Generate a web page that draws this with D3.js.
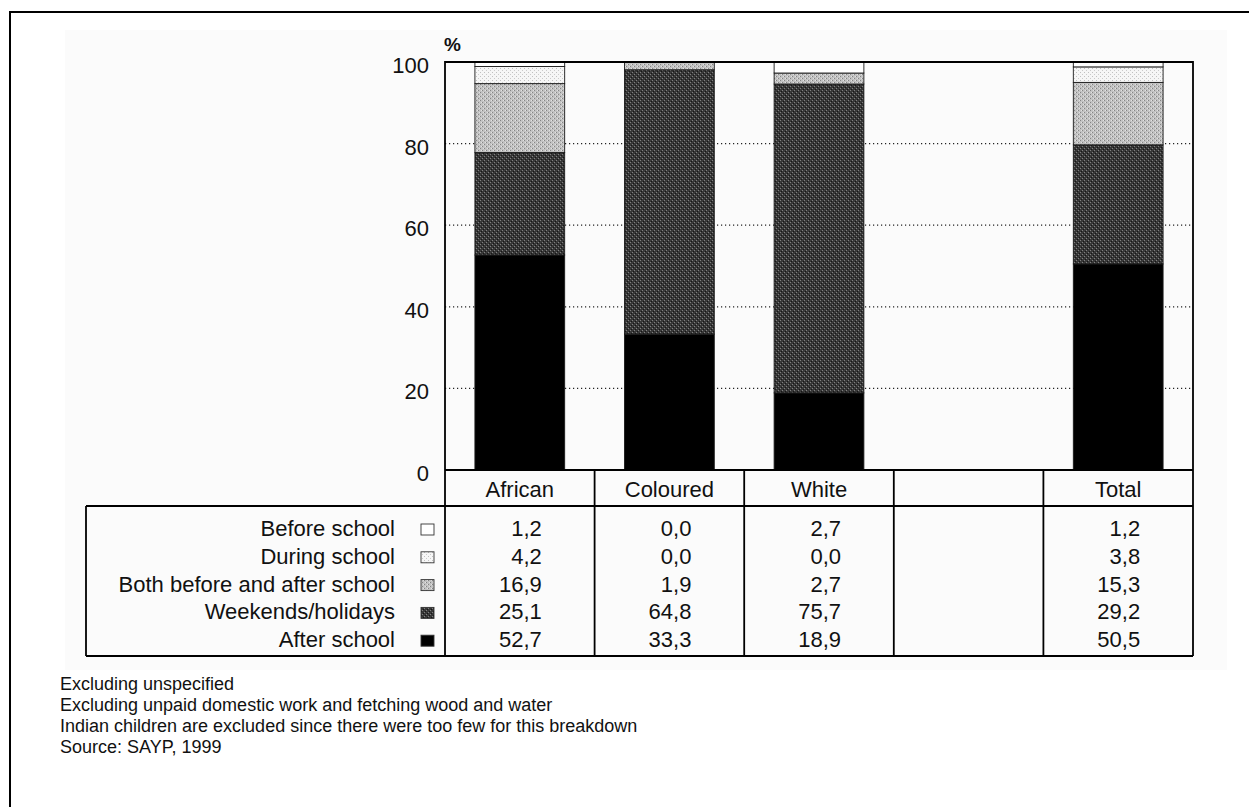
<!DOCTYPE html>
<html>
<head>
<meta charset="utf-8">
<script src="https://cdn.jsdelivr.net/npm/d3@7"></script>
<style>
  html, body { margin: 0; padding: 0; background: #fff; }
  svg { display: block; font-family: Arial, "Liberation Sans", sans-serif; }
</style>
</head>
<body>
<svg id="chart" width="1249" height="807"></svg>
<script>
// ---------- data ----------
const categories = ["African", "Coloured", "White", "", "Total"];
const seriesNames = ["Before school", "During school", "Both before and after school", "Weekends/holidays", "After school"];
const beforeSchool     = [1.2, 0.0, 2.7, null, 1.2];
const duringSchool     = [4.2, 0.0, 0.0, null, 3.8];
const bothBeforeAfter  = [16.9, 1.9, 2.7, null, 15.3];
const weekendsHolidays = [25.1, 64.8, 75.7, null, 29.2];
const afterSchool      = [52.7, 33.3, 18.9, null, 50.5];
const yTicks = [0, 20, 40, 60, 80, 100];
const notes = [
  "Excluding unspecified",
  "Excluding unpaid domestic work and fetching wood and water",
  "Indian children are excluded since there were too few for this breakdown",
  "Source: SAYP, 1999"
];

const seriesValues = {
  "Before school": beforeSchool,
  "During school": duringSchool,
  "Both before and after school": bothBeforeAfter,
  "Weekends/holidays": weekendsHolidays,
  "After school": afterSchool
};

const rows = categories.map((c, i) => {
  const r = { cat: c, empty: afterSchool[i] == null };
  seriesNames.forEach(s => r[s] = seriesValues[s][i] == null ? 0 : seriesValues[s][i]);
  return r;
});

// ---------- layout ----------
const svg = d3.select("#chart");
const plotL = 445, plotR = 1193, plotT = 62, plotB = 470;
const headerB = 506, tableB = 656, labelColL = 86;

const x = d3.scaleBand().domain(categories).range([plotL, plotR]).paddingInner(0.4).paddingOuter(0.2);
const y = d3.scaleLinear().domain([0, 100]).range([plotB, plotT]);

const fmt = d3.formatLocale({ decimal: ",", thousands: ".", grouping: [3], currency: ["", ""] }).format(".1f");

// ---------- patterns ----------
const defs = svg.append("defs");
function makePattern(id, base, dots) {
  const p = defs.append("pattern").attr("id", id).attr("patternUnits", "userSpaceOnUse")
    .attr("width", 4).attr("height", 4);
  p.append("rect").attr("width", 4).attr("height", 4).attr("fill", base);
  dots.forEach(d => p.append("rect").attr("x", d[0]).attr("y", d[1]).attr("width", 1).attr("height", 1).attr("fill", d[2]));
}
makePattern("pAfter", "#000000", []);
makePattern("pWeek", "#383838", [[0,0,"#808080"],[2,2,"#808080"],[1,3,"#161616"],[3,1,"#161616"]]);
makePattern("pBoth", "#c2c2c2", [[0,0,"#858585"],[2,2,"#858585"],[1,2,"#e2e2e2"],[3,0,"#e2e2e2"]]);
makePattern("pDuring", "#f6f6f6", [[0,0,"#c0c0c0"],[2,2,"#cacaca"]]);
makePattern("pBefore", "#ffffff", []);
const fills = {
  "Before school": "url(#pBefore)",
  "During school": "url(#pDuring)",
  "Both before and after school": "url(#pBoth)",
  "Weekends/holidays": "url(#pWeek)",
  "After school": "url(#pAfter)"
};

// ---------- backgrounds / border ----------
svg.append("rect").attr("x", 65).attr("y", 30).attr("width", 1162).attr("height", 640).attr("fill", "#fbfbfb");
svg.append("rect").attr("x", 10).attr("y", 12).attr("width", 1300).attr("height", 900)
  .attr("fill", "none").attr("stroke", "#000").attr("stroke-width", 2);

// ---------- gridlines ----------
svg.append("g").selectAll("line").data(yTicks.filter(t => t > 0 && t < 100)).join("line")
  .attr("x1", plotL).attr("x2", plotR).attr("y1", d => y(d)).attr("y2", d => y(d))
  .attr("stroke", "#222").attr("stroke-width", 1.2).attr("stroke-dasharray", "1.2,2.8");

// ---------- bars ----------
const stackKeys = seriesNames.slice().reverse(); // bottom: After school
const stacked = d3.stack().keys(stackKeys)(rows);
const barG = svg.append("g");
stacked.forEach(layer => {
  barG.append("g").selectAll("rect")
    .data(layer.filter(d => !d.data.empty && d[1] - d[0] > 0))
    .join("rect")
    .attr("x", d => x(d.data.cat))
    .attr("width", x.bandwidth())
    .attr("y", d => y(Math.min(d[1], 100)))
    .attr("height", d => y(d[0]) - y(Math.min(d[1], 100)))
    .attr("fill", fills[layer.key])
    .attr("stroke", "#1a1a1a").attr("stroke-width", 0.9);
});

// ---------- plot frame ----------
svg.append("path")
  .attr("d", `M${plotL},${plotB} V${plotT} H${plotR} V${plotB}`)
  .attr("fill", "none").attr("stroke", "#000").attr("stroke-width", 1.8);

// ---------- y axis ----------
const yAxis = d3.axisLeft(y).tickValues(yTicks).tickSize(0).tickPadding(16);
const yg = svg.append("g").attr("transform", `translate(${plotL},0)`).call(yAxis);
yg.select(".domain").remove();
yg.selectAll("text").attr("font-size", 22).attr("fill", "#111").attr("dy", "0.48em")
  .attr("font-family", "Arial, 'Liberation Sans', sans-serif");
svg.append("text").attr("x", 444).attr("y", 51).attr("font-size", 19).attr("font-weight", "bold")
  .attr("fill", "#111").text("%");

// ---------- table ----------
const tg = svg.append("g").attr("stroke", "#000").attr("stroke-width", 1.8).attr("fill", "none");
tg.append("line").attr("x1", plotL).attr("x2", plotR).attr("y1", plotB).attr("y2", plotB);
tg.append("line").attr("x1", labelColL).attr("x2", plotR).attr("y1", headerB).attr("y2", headerB);
tg.append("line").attr("x1", labelColL).attr("x2", plotR).attr("y1", tableB).attr("y2", tableB);
tg.append("line").attr("x1", labelColL).attr("x2", labelColL).attr("y1", headerB).attr("y2", tableB);
const step = x.step();
const dividers = categories.map((c, i) => plotL + step * i);
dividers.push(plotR);
tg.selectAll("line.div").data(dividers).join("line").attr("class", "div")
  .attr("x1", d => d).attr("x2", d => d).attr("y1", plotB).attr("y2", tableB);

// header labels
svg.append("g").selectAll("text").data(categories).join("text")
  .attr("x", d => x(d) + x.bandwidth() / 2).attr("y", 497)
  .attr("text-anchor", "middle").attr("font-size", 22).attr("fill", "#111").text(d => d);

// body rows
const rowY = i => 536 + 27.8 * i;
const body = svg.append("g");
seriesNames.forEach((s, i) => {
  body.append("text").attr("x", 395).attr("y", rowY(i)).attr("text-anchor", "end")
    .attr("font-size", 22).attr("fill", "#111").text(s);
  body.append("rect").attr("x", 421).attr("y", rowY(i) - 12).attr("width", 13).attr("height", 11)
    .attr("fill", fills[s]).attr("stroke", "#333").attr("stroke-width", 0.9);
  categories.forEach((c, j) => {
    const v = seriesValues[s][j];
    if (v == null) return;
    body.append("text").attr("x", x(c) + x.bandwidth() / 2 + 22).attr("y", rowY(i))
      .attr("text-anchor", "end").attr("font-size", 22).attr("fill", "#111").text(fmt(v));
  });
});

// ---------- notes ----------
svg.append("g").selectAll("text").data(notes).join("text")
  .attr("x", 60).attr("y", (d, i) => 690 + 21 * i)
  .attr("font-size", 18).attr("fill", "#111").text(d => d);
</script>
</body>
</html>
